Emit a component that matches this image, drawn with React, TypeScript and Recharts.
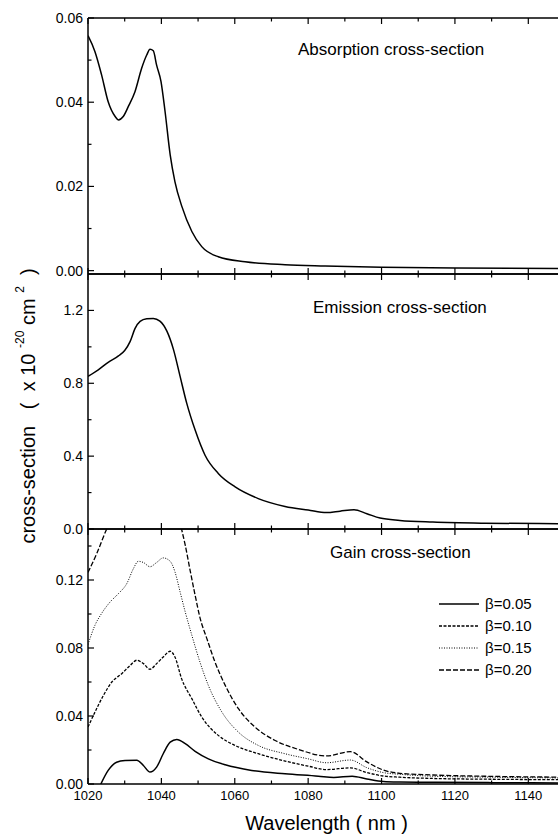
import React from 'react';
import { LineChart, Line, XAxis, YAxis } from 'recharts';

// wavelength axis
const xTicks = [1020, 1030, 1040, 1050, 1060, 1070, 1080, 1090, 1100, 1110, 1120, 1130, 1140, 1150];
const xLabels = ['1020', '', '1040', '', '1060', '', '1080', '', '1100', '', '1120', '', '1140', ''];

// absorption cross-section
const absWl = [1020, 1021.9, 1023.7, 1025.5, 1027.4, 1028.3, 1029.6, 1031, 1032.8, 1034.6, 1036, 1036.9, 1037.8, 1038.7, 1039.9, 1041, 1042.4, 1043.7, 1045.6, 1048.3, 1051, 1055.5, 1062.8, 1073.7, 1084.6, 1100, 1120, 1150];
const absVal = [0.0558, 0.052, 0.0465, 0.0401, 0.0366, 0.0358, 0.0366, 0.039, 0.0425, 0.048, 0.0512, 0.0526, 0.0522, 0.0488, 0.0449, 0.0378, 0.0275, 0.0211, 0.0152, 0.0093, 0.0057, 0.0033, 0.0021, 0.0014, 0.0011, 0.0008, 0.0006, 0.0005];
const absTicks = [0, 0.01, 0.02, 0.03, 0.04, 0.05, 0.06];
const absLabels = ['0.00', '', '0.02', '', '0.04', '', '0.06'];

// emission cross-section
const emWl = [1020, 1022.8, 1025.5, 1028.3, 1030, 1031.5, 1032.8, 1034.2, 1036, 1037.8, 1039.6, 1041.5, 1043.3, 1045.1, 1046.9, 1049.2, 1051.9, 1055.5, 1060.1, 1066.4, 1073.7, 1080, 1085, 1088.7, 1092.5, 1096, 1099.6, 1105, 1114, 1128, 1150];
const emVal = [0.838, 0.874, 0.915, 0.95, 0.98, 1.03, 1.1, 1.14, 1.154, 1.156, 1.141, 1.086, 0.985, 0.838, 0.691, 0.543, 0.405, 0.305, 0.231, 0.167, 0.124, 0.104, 0.09, 0.098, 0.106, 0.084, 0.06, 0.047, 0.038, 0.032, 0.029];
const emTicks = [0, 0.2, 0.4, 0.6, 0.8, 1.0, 1.2];
const emLabels = ['0.0', '', '0.4', '', '0.8', '', '1.2'];

// gain cross-section
const g05Wl = [1023.5, 1025.5, 1027.8, 1030.1, 1033.3, 1035.1, 1036.9, 1038.7, 1040.5, 1042.4, 1044.2, 1046.5, 1049.2, 1052.8, 1057.4, 1064.6, 1073.7, 1082.8, 1087, 1092, 1096, 1100.5, 1105, 1115, 1130, 1150];
const g05Val = [0, 0.008, 0.0128, 0.0138, 0.014, 0.0109, 0.007, 0.0099, 0.0178, 0.0246, 0.0262, 0.0237, 0.0192, 0.0148, 0.0113, 0.008, 0.006, 0.0046, 0.0038, 0.0046, 0.003, 0.0015, 0.0012, 0.001, 0.0008, 0.0006];

const g10Wl = [1020, 1021.9, 1024.2, 1026.5, 1029.2, 1031.5, 1033.3, 1035.1, 1036.9, 1038.7, 1040.5, 1042.4, 1043.7, 1045.5, 1048.3, 1051, 1055.5, 1060.1, 1066.4, 1073.7, 1080, 1085, 1091.5, 1096, 1100.5, 1105, 1115, 1130, 1150];
const g10Val = [0.0335, 0.0423, 0.0521, 0.06, 0.0649, 0.0698, 0.0728, 0.0708, 0.0675, 0.0708, 0.0747, 0.0781, 0.0747, 0.062, 0.0502, 0.0394, 0.0286, 0.0227, 0.0178, 0.0135, 0.0105, 0.0085, 0.0095, 0.0067, 0.0047, 0.004, 0.0032, 0.0028, 0.0025];

const g15Wl = [1020, 1021.9, 1023.7, 1026, 1028.3, 1030.6, 1032.4, 1033.7, 1035.1, 1036.9, 1038.7, 1040.5, 1042.4, 1043.7, 1045.1, 1046.5, 1048.3, 1050.5, 1052.8, 1056.5, 1061, 1066.4, 1073.7, 1080, 1085, 1091.5, 1096, 1100.5, 1105, 1115, 1130, 1150];
const g15Val = [0.082, 0.0934, 0.1003, 0.107, 0.112, 0.118, 0.1268, 0.131, 0.1303, 0.1278, 0.1303, 0.133, 0.131, 0.1248, 0.113, 0.1012, 0.0875, 0.0718, 0.058, 0.0423, 0.0305, 0.0227, 0.0178, 0.0148, 0.0125, 0.0141, 0.0096, 0.0067, 0.0057, 0.0045, 0.004, 0.0035];

// β=0.20 runs off the top of the panel between ~1025 and ~1045 nm
const g20Wl = [1020, 1022.4, 1025.1, 1027, 1030, 1033, 1035, 1037, 1040, 1042.4, 1044, 1045.5, 1046.5, 1047.8, 1049.2, 1050.5, 1052.4, 1054.6, 1057.4, 1061, 1065.5, 1071, 1077.4, 1085, 1091.5, 1096, 1100.5, 1105, 1114, 1130, 1150];
const g20Val = [0.1245, 0.1356, 0.15, 0.158, 0.168, 0.18, 0.183, 0.188, 0.19, 0.186, 0.165, 0.15, 0.1405, 0.126, 0.111, 0.098, 0.0855, 0.0718, 0.058, 0.0443, 0.0335, 0.0256, 0.0203, 0.0165, 0.019, 0.013, 0.0082, 0.0063, 0.0053, 0.0045, 0.004];

const gainTicks = [0, 0.02, 0.04, 0.06, 0.08, 0.1, 0.12, 0.14];
const gainLabels = ['0.00', '', '0.04', '', '0.08', '', '0.12', ''];

const betaNames = ['β=0.05', 'β=0.10', 'β=0.15', 'β=0.20'];
const betaDash = ['', '3 1.5', '1 1.5', '5 2'];
const betaWidth = [1.5, 1.3, 1, 1.3];

const zip = (xs: number[], vs: number[]) => xs.map((x, i) => ({ x, v: vs[i] }));

const FONT = '"Liberation Sans", Arial, Helvetica, sans-serif';
const AX = { stroke: '#000', strokeWidth: 1.5 };
const CHART_W = 575;
const LEFT_W = 88;
const PAD = 10; // room so edge tick labels are not clipped
const XH = 1; // x axes need a non-zero height or recharts skips them

const LeftTick = (props: any) => {
  const { x, y, payload, ticks, labels } = props;
  const lab = labels[ticks.indexOf(payload.value)] || '';
  const ax = x + 5;
  return (
    <g>
      <line x1={ax} x2={ax + (lab ? 6 : 3.5)} y1={y} y2={y} stroke="#000" strokeWidth={1.2} />
      {lab && (
        <text x={x} y={y} dy={5} textAnchor="end" fontSize={14} fontFamily={FONT} fill="#000">
          {lab}
        </text>
      )}
    </g>
  );
};

const RightTick = (props: any) => {
  const { x, y, payload, ticks, labels } = props;
  const lab = labels[ticks.indexOf(payload.value)] || '';
  return <line x1={x} x2={x - (lab ? 6 : 3.5)} y1={y} y2={y} stroke="#000" strokeWidth={1.2} />;
};

const BottomTick = (props: any) => {
  const { x, y, payload, showLabel } = props;
  const lab = xLabels[xTicks.indexOf(payload.value)] || '';
  const ay = y - 4;
  return (
    <g>
      <line x1={x} x2={x} y1={ay} y2={ay - (lab ? 6 : 3.5)} stroke="#000" strokeWidth={1.2} />
      {showLabel && lab && (
        <text x={x} y={y} dy={12} textAnchor="middle" fontSize={13} fontFamily={FONT} fill="#000">
          {lab}
        </text>
      )}
    </g>
  );
};

const TopTick = (props: any) => {
  const { x, y, payload } = props;
  const lab = xLabels[xTicks.indexOf(payload.value)] || '';
  return <line x1={x} x2={x} y1={y} y2={y + (lab ? 6 : 3.5)} stroke="#000" strokeWidth={1.2} />;
};

const Axes = ({ domain, ticks, labels, bottomLabels = false, bottomHeight = XH }: any) => [
  <XAxis
    key="xb"
    xAxisId="b"
    type="number"
    dataKey="x"
    domain={[1020, 1150]}
    allowDataOverflow
    ticks={xTicks}
    interval={0}
    tickSize={0}
    tickMargin={4}
    tickLine={false}
    axisLine={AX}
    height={bottomHeight}
    tick={<BottomTick showLabel={bottomLabels} />}
    label={
      bottomLabels
        ? { value: 'Wavelength  ( nm )', position: 'insideBottom', offset: 7, fontSize: 20, fill: '#000', fontFamily: FONT }
        : undefined
    }
  />,
  <XAxis
    key="xt"
    xAxisId="t"
    orientation="top"
    type="number"
    dataKey="x"
    domain={[1020, 1150]}
    allowDataOverflow
    ticks={xTicks}
    interval={0}
    tickSize={0}
    tickMargin={0}
    tickLine={false}
    axisLine={AX}
    height={XH}
    tick={<TopTick />}
  />,
  <YAxis
    key="yl"
    yAxisId="l"
    type="number"
    domain={domain}
    allowDataOverflow
    ticks={ticks}
    interval={0}
    tickSize={0}
    tickMargin={5}
    tickLine={false}
    axisLine={AX}
    width={LEFT_W}
    tick={<LeftTick ticks={ticks} labels={labels} />}
  />,
  <YAxis
    key="yr"
    yAxisId="r"
    orientation="right"
    type="number"
    domain={domain}
    allowDataOverflow
    ticks={ticks}
    interval={0}
    tickSize={0}
    tickMargin={0}
    tickLine={false}
    axisLine={AX}
    width={10}
    tick={<RightTick ticks={ticks} labels={labels} />}
  />,
];

const PanelTitle = ({ x, y, text }: { x: number; y: number; text: string }) => (
  <div
    style={{
      position: 'absolute',
      left: x,
      top: y,
      fontFamily: FONT,
      fontSize: 17,
      color: '#000',
      whiteSpace: 'nowrap',
      lineHeight: '17px',
    }}
  >
    {text}
  </div>
);

const GainLegend = () => (
  <svg width={130} height={100} style={{ position: 'absolute', left: 439, top: 596 }}>
    {betaNames.map((n, i) => (
      <g key={n}>
        <line
          x1={0}
          x2={40}
          y1={8 + i * 22}
          y2={8 + i * 22}
          stroke="#000"
          strokeWidth={betaWidth[i]}
          strokeDasharray={betaDash[i] || undefined}
        />
        <text x={46} y={8 + i * 22} dy={5} fontSize={15} fontFamily={FONT} fill="#000">
          {n}
        </text>
      </g>
    ))}
  </svg>
);

export default function App() {
  const gainSeries = [zip(g05Wl, g05Val), zip(g10Wl, g10Val), zip(g15Wl, g15Val), zip(g20Wl, g20Val)];
  return (
    <div
      style={{
        position: 'absolute',
        left: 0,
        top: 0,
        width: 558,
        height: 837,
        overflow: 'hidden',
        background: '#fff',
      }}
    >
      {/* absorption: plot 18..274 */}
      <div style={{ position: 'absolute', left: 0, top: 0 }}>
        <LineChart width={CHART_W} height={274 + PAD} margin={{ top: 18 - XH, right: 0, bottom: PAD - XH, left: 0 }}>
          {Axes({ domain: [-0.0008, 0.06], ticks: absTicks, labels: absLabels })}
          <Line
            data={zip(absWl, absVal)}
            xAxisId="b"
            yAxisId="l"
            dataKey="v"
            type="monotone"
            stroke="#000"
            strokeWidth={1.5}
            dot={false}
            isAnimationActive={false}
          />
        </LineChart>
      </div>

      {/* emission: plot 274..529 */}
      <div style={{ position: 'absolute', left: 0, top: 274 - PAD }}>
        <LineChart width={CHART_W} height={255 + 2 * PAD} margin={{ top: PAD - XH, right: 0, bottom: PAD - XH, left: 0 }}>
          {Axes({ domain: [0, 1.4], ticks: emTicks, labels: emLabels })}
          <Line
            data={zip(emWl, emVal)}
            xAxisId="b"
            yAxisId="l"
            dataKey="v"
            type="monotone"
            stroke="#000"
            strokeWidth={1.5}
            dot={false}
            isAnimationActive={false}
          />
        </LineChart>
      </div>

      {/* gain: plot 529..784 */}
      <div style={{ position: 'absolute', left: 0, top: 529 - PAD }}>
        <LineChart width={CHART_W} height={308 + PAD} margin={{ top: PAD - XH, right: 0, bottom: 0, left: 0 }}>
          {Axes({ domain: [0, 0.15], ticks: gainTicks, labels: gainLabels, bottomLabels: true, bottomHeight: 53 })}
          {gainSeries.map((d, i) => (
            <Line
              key={betaNames[i]}
              name={betaNames[i]}
              data={d}
              xAxisId="b"
              yAxisId="l"
              dataKey="v"
              type="monotone"
              stroke="#000"
              strokeWidth={betaWidth[i]}
              strokeDasharray={betaDash[i] || undefined}
              dot={false}
              isAnimationActive={false}
            />
          ))}
        </LineChart>
      </div>

      <GainLegend />

      <PanelTitle x={298} y={41} text="Absorption cross-section" />
      <PanelTitle x={313} y={299} text="Emission cross-section" />
      <PanelTitle x={330} y={544} text="Gain cross-section" />

      {/* shared y title */}
      <svg width={60} height={837} style={{ position: 'absolute', left: 0, top: 0 }}>
        <text
          transform="translate(28, 406) rotate(-90)"
          textAnchor="middle"
          dominantBaseline="central"
          fontSize={20}
          fontFamily={FONT}
          fill="#000"
          style={{ whiteSpace: 'pre' }}
        >
          {'cross-section   (  x 10 '}
          <tspan dy={-8} fontSize={12}>
            {'-20'}
          </tspan>
          <tspan dy={8}>{' cm '}</tspan>
          <tspan dy={-8} fontSize={12}>
            {'2'}
          </tspan>
          <tspan dy={8}>{'  )'}</tspan>
        </text>
      </svg>
    </div>
  );
}
